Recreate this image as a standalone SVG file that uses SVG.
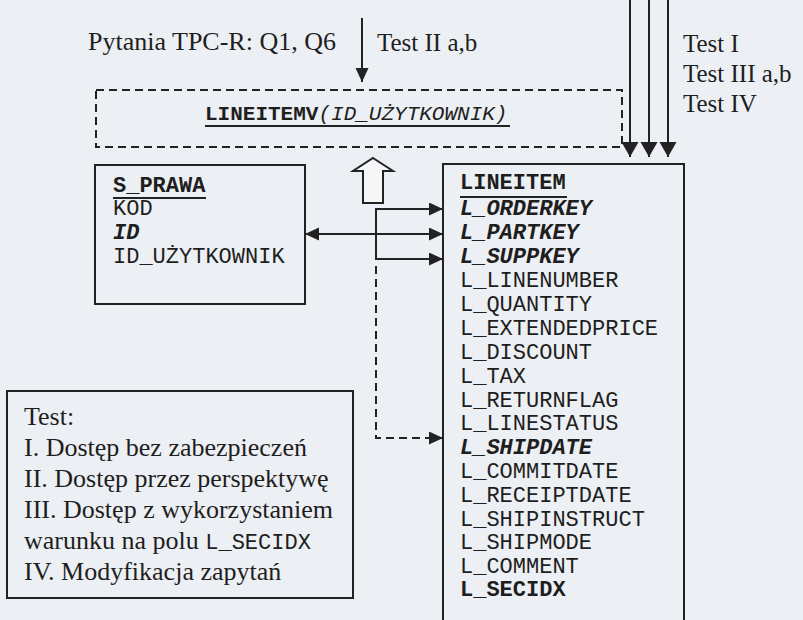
<svg xmlns="http://www.w3.org/2000/svg" width="803" height="620" viewBox="0 0 803 620">
<style>
.serif{font-family:"Liberation Serif","Times New Roman",serif;font-size:24px;fill:#1e1e1e}
.big{font-size:26px}
.mono{font-family:"Liberation Mono","Courier New",monospace;font-size:22px;fill:#1e1e1e}
.b{font-weight:bold}
.bi{font-weight:bold;font-style:italic}
.i{font-style:italic}
.box{fill:#eceff3;stroke:#222;stroke-width:2}
.dbox{fill:none;stroke:#222;stroke-width:2;stroke-dasharray:8 5}
.ln{fill:none;stroke:#222;stroke-width:2}
.dln{fill:none;stroke:#222;stroke-width:2;stroke-dasharray:8 5}
.ul{stroke:#222;stroke-width:2}
</style>
<defs>
<marker id="ah" markerUnits="userSpaceOnUse" markerWidth="16" markerHeight="14" refX="14" refY="6.5" orient="auto-start-reverse">
<path d="M0,0 L14,6.5 L0,13 z" fill="#222"/>
</marker>
<marker id="ahw" markerUnits="userSpaceOnUse" markerWidth="17" markerHeight="18" refX="15" refY="8.5" orient="auto">
<path d="M0,0 L15,8.5 L0,17 z" fill="#222"/>
</marker>
</defs>
<rect x="0" y="0" width="803" height="620" fill="#eceff3"/>

<g id="label-pytania">
<text class="serif big" x="88" y="50">Pytania TPC-R: Q1, Q6</text>
<text class="serif" x="377" y="51" style="font-size:25px">Test II a,b</text>
</g>
<g id="label-tests">
<text class="serif" x="683" y="52" style="font-size:25px">Test I</text>
<text class="serif" x="683" y="82" style="font-size:25px">Test III a,b</text>
<text class="serif" x="683" y="112" style="font-size:25px">Test IV</text>
</g>

<g id="view-lineitemv">
<rect class="dbox" x="96" y="90" width="526" height="57"/>
<text class="mono" x="205" y="120" style="font-size:21px"><tspan class="b">LINEITEMV</tspan><tspan class="i">(ID_UŻYTKOWNIK)</tspan></text>
<line class="ul" x1="205" y1="126" x2="510" y2="126"/>
</g>

<g id="hollow-arrow">
<path d="M373,158 L393,171 L383,171 L383,203 L363,203 L363,171 L353,171 Z" fill="#f4f6f8" stroke="#222" stroke-width="2"/>
</g>

<g id="table-s-prawa">
<rect class="box" x="95" y="165" width="210" height="139"/>
<text class="mono b" x="113" y="192">S_PRAWA</text>
<line class="ul" x1="113" y1="198" x2="206" y2="198"/>
<text class="mono" x="113" y="215">KOD</text>
<text class="mono bi" x="113" y="239">ID</text>
<text class="mono" x="113" y="263">ID_UŻYTKOWNIK</text>
</g>

<g id="table-lineitem">
<rect class="box" x="443" y="164" width="241" height="480"/>
<text class="mono b" x="460" y="189">LINEITEM</text>
<line class="ul" x1="460" y1="197" x2="567" y2="197"/>
<text class="mono bi" x="460" y="215">L_ORDERKEY</text>
<text class="mono bi" x="460" y="239">L_PARTKEY</text>
<text class="mono bi" x="460" y="263">L_SUPPKEY</text>
<text class="mono" x="460" y="287">L_LINENUMBER</text>
<text class="mono" x="460" y="311">L_QUANTITY</text>
<text class="mono" x="460" y="335">L_EXTENDEDPRICE</text>
<text class="mono" x="460" y="359">L_DISCOUNT</text>
<text class="mono" x="460" y="383">L_TAX</text>
<text class="mono" x="460" y="407">L_RETURNFLAG</text>
<text class="mono" x="460" y="430">L_LINESTATUS</text>
<text class="mono bi" x="460" y="454">L_SHIPDATE</text>
<text class="mono" x="460" y="478">L_COMMITDATE</text>
<text class="mono" x="460" y="502">L_RECEIPTDATE</text>
<text class="mono" x="460" y="526">L_SHIPINSTRUCT</text>
<text class="mono" x="460" y="549">L_SHIPMODE</text>
<text class="mono" x="460" y="573">L_COMMENT</text>
<text class="mono b" x="460" y="596">L_SECIDX</text>
</g>

<g id="legend">
<rect class="box" x="7" y="391" width="346" height="207"/>
<text class="serif big" x="24" y="425">Test:</text>
<text class="serif big" x="24" y="456">I. Dostęp bez zabezpieczeń</text>
<text class="serif big" x="24" y="487">II. Dostęp przez perspektywę</text>
<text class="serif big" x="24" y="518">III. Dostęp z wykorzystaniem</text>
<text class="serif big" x="24" y="549">warunku na polu <tspan style="font-family:'Liberation Mono','Courier New',monospace;font-size:22px">L_SECIDX</tspan></text>
<text class="serif big" x="24" y="580">IV. Modyfikacja zapytań</text>
</g>

<g id="connectors">
<line class="ln" x1="362" y1="18" x2="362" y2="82" marker-end="url(#ah)"/>
<line class="ln" x1="630" y1="0" x2="630" y2="157" marker-end="url(#ahw)"/>
<line class="ln" x1="649" y1="0" x2="649" y2="157" marker-end="url(#ahw)"/>
<line class="ln" x1="668" y1="0" x2="668" y2="157" marker-end="url(#ahw)"/>
<line class="ln" x1="305" y1="234" x2="443" y2="234" marker-start="url(#ah)" marker-end="url(#ah)"/>
<polyline class="ln" points="443,209 376,209 376,259 443,259"/>
<line class="ln" x1="420" y1="209" x2="443" y2="209" marker-end="url(#ah)"/>
<line class="ln" x1="420" y1="259" x2="443" y2="259" marker-end="url(#ah)"/>
<polyline class="dln" points="376,266 376,438 443,438" marker-end="url(#ah)"/>
</g>
</svg>
